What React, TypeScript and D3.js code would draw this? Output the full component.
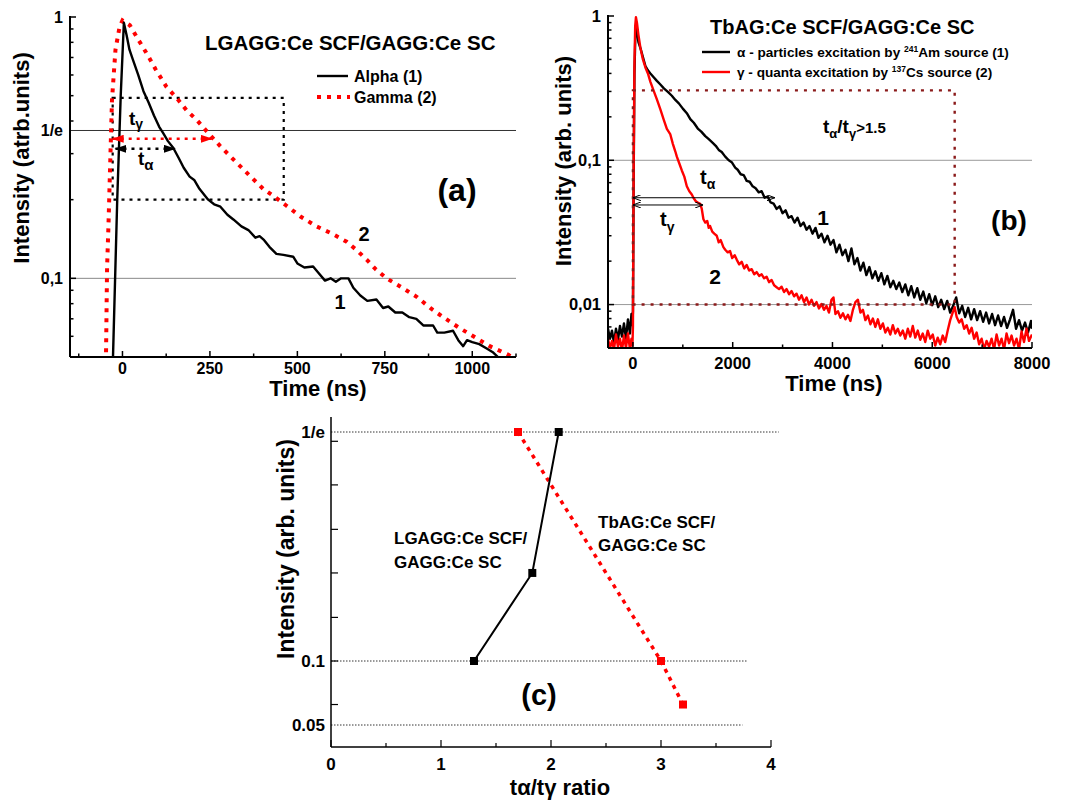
import React from "react";
import * as d3 from "d3";

const INV_E = 1 / Math.E;
const FONT = "'Liberation Sans', Arial, Helvetica, sans-serif";

// ---------------- Panel (a): LGAGG:Ce SCF / GAGG:Ce SC ----------------
const aAlpha: [number, number][] = [
  [-28, 0.045], [-15, 0.2], [-5, 0.5], [4, 0.95], [12, 0.85], [20, 0.75], [30, 0.685], [45, 0.6],
  [60, 0.52], [75, 0.47], [90, 0.42], [105, 0.38], [116, 0.36], [130, 0.335], [145, 0.316], [160, 0.29],
  [175, 0.265], [192, 0.245], [205, 0.238], [220, 0.22], [245, 0.2], [262, 0.192], [280, 0.188], [300, 0.175],
  [317, 0.168], [340, 0.158], [360, 0.153], [380, 0.143], [392, 0.145], [405, 0.14], [420, 0.132], [440, 0.124],
  [460, 0.123], [488, 0.121], [500, 0.114], [520, 0.11], [545, 0.111], [560, 0.105], [579, 0.098], [595, 0.1],
  [610, 0.097], [625, 0.1], [646, 0.1], [660, 0.092], [680, 0.086], [700, 0.082], [726, 0.083], [745, 0.077],
  [760, 0.078], [780, 0.074], [800, 0.074], [820, 0.071], [840, 0.07], [860, 0.066], [888, 0.066], [900, 0.062],
  [920, 0.062], [945, 0.063], [960, 0.058], [974, 0.055], [985, 0.058], [1000, 0.057], [1020, 0.056],
  [1040, 0.054], [1060, 0.052], [1080, 0.049],
];
const aGamma: [number, number][] = [
  [-48, 0.04], [-44, 0.11], [-40, 0.16], [-30, 0.48], [-20, 0.75], [-8, 0.92], [0, 0.97], [21, 0.93],
  [45, 0.82], [68, 0.73], [95, 0.63], [126, 0.54], [155, 0.49], [183, 0.44], [215, 0.4], [245, 0.36],
  [280, 0.32], [317, 0.285], [360, 0.25], [402, 0.22], [435, 0.205], [468, 0.19], [510, 0.172], [555, 0.158],
  [600, 0.148], [641, 0.138], [670, 0.128], [698, 0.118], [725, 0.108], [755, 0.1], [800, 0.092], [841, 0.085],
  [880, 0.077], [917, 0.071], [960, 0.065], [1003, 0.06], [1050, 0.055], [1103, 0.051], [1120, 0.049],
];
const aXTicks = [0, 250, 500, 750, 1000];
const aXMinor = [-125, 125, 375, 625, 875, 1125];
const aYLabels: [number, string][] = [[1, "1"], [INV_E, "1/e"], [0.1, "0,1"]];
const aRect = { t0: -28, t1: 461, v0: 0.2, v1: 0.49 };
const aArrowGamma = { t0: -28, t1: 255, v: 0.342 };
const aArrowAlpha = { t0: -20, t1: 150, v: 0.313 };

// ---------------- Panel (b): TbAG:Ce SCF / GAGG:Ce SC ----------------
const bAlpha: [number, number][] = [
  [-500, 0.0068], [-460, 0.0058], [-420, 0.0066], [-380, 0.0054], [-340, 0.0068], [-300, 0.0057], [-260, 0.0071],
  [-220, 0.006], [-180, 0.0074], [-140, 0.0058], [-100, 0.0079], [-60, 0.0063], [-30, 0.0086], [-10, 0.0072],
  [0, 0.009], [15, 0.08], [30, 0.4], [50, 0.78], [70, 0.9], [85, 0.76], [110, 0.66], [150, 0.6], [200, 0.52],
  [250, 0.45], [300, 0.42], [350, 0.4], [420, 0.375], [480, 0.355], [550, 0.335], [620, 0.315], [700, 0.298],
  [780, 0.28], [850, 0.262], [920, 0.248], [1000, 0.228], [1080, 0.212], [1150, 0.193], [1220, 0.182],
  [1300, 0.166], [1370, 0.158], [1450, 0.147], [1520, 0.14], [1600, 0.132], [1660, 0.126], [1720, 0.118],
  [1780, 0.114], [1850, 0.106], [1920, 0.1], [1980, 0.097], [2050, 0.089], [2100, 0.086], [2160, 0.08],
  [2220, 0.079], [2280, 0.072], [2340, 0.071], [2400, 0.066], [2460, 0.064], [2520, 0.06], [2580, 0.061],
  [2640, 0.055], [2700, 0.056], [2760, 0.051], [2820, 0.05], [2880, 0.046], [2940, 0.048], [3000, 0.043],
  [3060, 0.045], [3120, 0.04], [3180, 0.041], [3240, 0.037], [3300, 0.04], [3360, 0.035], [3420, 0.037],
  [3480, 0.033], [3540, 0.035], [3600, 0.031], [3660, 0.034], [3720, 0.029], [3780, 0.031], [3840, 0.027],
  [3900, 0.03], [3960, 0.026], [4020, 0.028], [4080, 0.023], [4140, 0.026], [4200, 0.022], [4260, 0.024],
  [4320, 0.02], [4380, 0.0245], [4440, 0.019], [4500, 0.021], [4560, 0.0172], [4620, 0.0195], [4680, 0.016],
  [4740, 0.0182], [4800, 0.0152], [4860, 0.017], [4920, 0.0146], [4980, 0.0165], [5040, 0.0138], [5100, 0.0158],
  [5160, 0.0132], [5220, 0.0146], [5280, 0.0128], [5340, 0.0142], [5400, 0.0122], [5460, 0.0138], [5520, 0.0116],
  [5580, 0.0134], [5640, 0.0112], [5700, 0.013], [5760, 0.0108], [5820, 0.0123], [5880, 0.0102], [5940, 0.0118],
  [6000, 0.0099], [6060, 0.0114], [6120, 0.0096], [6180, 0.0108], [6240, 0.0093], [6300, 0.0106], [6360, 0.0088],
  [6420, 0.0098], [6480, 0.0112], [6540, 0.0087], [6600, 0.0098], [6660, 0.0082], [6720, 0.0095], [6780, 0.0079],
  [6840, 0.0093], [6900, 0.0078], [6960, 0.009], [7020, 0.0076], [7080, 0.0088], [7140, 0.0074], [7200, 0.0086],
  [7260, 0.0072], [7320, 0.0084], [7380, 0.0071], [7440, 0.0082], [7500, 0.0069], [7560, 0.0079], [7620, 0.0092],
  [7680, 0.0068], [7740, 0.0078], [7800, 0.0066], [7860, 0.0075], [7920, 0.0064], [7980, 0.0077], [8000, 0.0068],
];
const bGamma: [number, number][] = [
  [-500, 0.0058], [-460, 0.005], [-420, 0.0056], [-380, 0.0049], [-340, 0.0062], [-300, 0.0051], [-260, 0.0058],
  [-220, 0.0048], [-180, 0.0061], [-140, 0.005], [-100, 0.0063], [-60, 0.0049], [-30, 0.0058], [-10, 0.0052],
  [0, 0.007], [15, 0.1], [30, 0.45], [45, 0.85], [60, 0.98], [80, 0.9], [110, 0.74], [150, 0.6], [200, 0.5],
  [250, 0.44], [300, 0.4], [350, 0.35], [420, 0.3], [480, 0.264], [550, 0.225], [620, 0.19], [680, 0.165],
  [747, 0.152], [800, 0.13], [850, 0.115], [880, 0.106], [930, 0.095], [980, 0.085], [1030, 0.077], [1080, 0.066],
  [1130, 0.061], [1180, 0.058], [1213, 0.055], [1260, 0.052], [1300, 0.051], [1347, 0.05], [1380, 0.046],
  [1413, 0.039], [1450, 0.037], [1490, 0.038], [1520, 0.034], [1547, 0.035], [1590, 0.032], [1630, 0.031],
  [1680, 0.03], [1720, 0.027], [1760, 0.028], [1813, 0.025], [1850, 0.024], [1900, 0.023], [1947, 0.0235],
  [1990, 0.021], [2040, 0.022], [2080, 0.0205], [2130, 0.019], [2180, 0.0198], [2230, 0.0178], [2280, 0.0188],
  [2330, 0.0172], [2380, 0.0176], [2430, 0.0162], [2480, 0.0168], [2530, 0.0158], [2580, 0.0162], [2630, 0.0152],
  [2680, 0.0156], [2730, 0.0143], [2780, 0.0148], [2830, 0.0136], [2880, 0.0132], [2930, 0.0128], [2980, 0.0133],
  [3030, 0.0122], [3080, 0.0128], [3130, 0.0118], [3180, 0.0124], [3230, 0.0114], [3280, 0.0119], [3330, 0.0108],
  [3380, 0.0116], [3430, 0.0104], [3480, 0.0112], [3530, 0.01], [3580, 0.0108], [3630, 0.0098], [3680, 0.0104],
  [3730, 0.0094], [3780, 0.0101], [3830, 0.0092], [3880, 0.0098], [3930, 0.0088], [3980, 0.0108], [4020, 0.0112],
  [4060, 0.0086], [4110, 0.009], [4160, 0.0081], [4210, 0.0087], [4260, 0.0079], [4310, 0.0085], [4360, 0.0077],
  [4410, 0.0092], [4460, 0.0104], [4510, 0.0108], [4560, 0.0088], [4610, 0.0092], [4660, 0.0078], [4710, 0.0084],
  [4760, 0.0073], [4810, 0.008], [4860, 0.007], [4910, 0.0079], [4960, 0.0068], [5010, 0.0074], [5060, 0.0064],
  [5110, 0.0069], [5160, 0.0062], [5210, 0.0072], [5260, 0.0063], [5310, 0.0068], [5360, 0.0061], [5410, 0.0066],
  [5460, 0.0058], [5510, 0.0068], [5560, 0.006], [5610, 0.0071], [5660, 0.0059], [5710, 0.0066], [5760, 0.0057],
  [5810, 0.0063], [5860, 0.0055], [5910, 0.0066], [5960, 0.0058], [6010, 0.0062], [6060, 0.0052], [6110, 0.0059],
  [6160, 0.0053], [6210, 0.0061], [6260, 0.0055], [6310, 0.0066], [6360, 0.0078], [6410, 0.0088], [6450, 0.0096],
  [6490, 0.0082], [6540, 0.0075], [6590, 0.0079], [6640, 0.0068], [6690, 0.0072], [6740, 0.0063], [6790, 0.0069],
  [6840, 0.0058], [6890, 0.0064], [6940, 0.0053], [6990, 0.0058], [7040, 0.0049], [7090, 0.0056], [7140, 0.0051],
  [7190, 0.0058], [7240, 0.0049], [7290, 0.0062], [7340, 0.0052], [7390, 0.0058], [7440, 0.0049], [7490, 0.0063],
  [7540, 0.0054], [7590, 0.0061], [7640, 0.0052], [7690, 0.0058], [7740, 0.0049], [7790, 0.0065], [7840, 0.0055],
  [7890, 0.0068], [7940, 0.0056], [8000, 0.0062],
];
const bXTicks = [0, 2000, 4000, 6000, 8000];
const bXMinor = [1000, 3000, 5000, 7000];
const bYLabels: [number, string][] = [[1, "1"], [0.1, "0,1"], [0.01, "0,01"]];
const bRect = { t0: 0, t1: 6450, v0: 0.01, v1: 0.305 };
const bArrowAlpha = { t0: 0, t1: 2846, v: 0.055 };
const bArrowGamma = { t0: 0, t1: 1406, v: 0.049 };

// ---------------- Panel (c): ratio ----------------
const cLGAGG: [number, number][] = [[1.3, 0.1], [1.83, 0.203], [2.07, INV_E]];
const cTbAG: [number, number][] = [[1.7, INV_E], [3.0, 0.1], [3.2, 0.066]];
const cXTicks = [0, 1, 2, 3, 4];
const cXMinor = [0.5, 1.5, 2.5, 3.5];
const cYTicks = [0.066, 0.1, 0.151, 0.203, 0.254, 0.306, 0.357];
const cYLabels: [number, string][] = [[INV_E, "1/e"], [0.1, "0.1"], [0.05, "0.05"]];
const cGrid: [number, number][] = [[INV_E, 4.07], [0.1, 3.78], [0.05, 3.74]];

function logTicks(min: number, max: number) {
  const out: { v: number; major: boolean }[] = [];
  for (let e = -3; e <= 0; e++) {
    for (let k = 1; k < 10; k++) {
      const v = k * Math.pow(10, e);
      if (v >= min * 0.999 && v <= max * 1.001) out.push({ v, major: k === 1 });
    }
  }
  return out;
}

export default function App() {
  const xA = d3.scaleLinear().domain([-150, 1125]).range([70, 516]);
  const yA = d3.scaleLog().domain([0.05, 1]).range([357, 17]);
  const xB = d3.scaleLinear().domain([-500, 8000]).range([608, 1032]);
  const yB = d3.scaleLog().domain([0.005, 1]).range([348, 16]);
  const xC = d3.scaleLinear().domain([0, 4]).range([331, 771]);
  const yC = d3
    .scaleLinear()
    .domain([0.033, 0.05, 0.1, INV_E, 0.386])
    .range([747, 725, 661, 432, 417]);

  const lineA = d3.line<[number, number]>().x((d) => xA(d[0])).y((d) => yA(d[1]));
  const lineB = d3.line<[number, number]>().x((d) => xB(d[0])).y((d) => yB(d[1]));
  const lineC = d3.line<[number, number]>().x((d) => xC(d[0])).y((d) => yC(d[1]));

  const [ax0, ax1] = xA.range();
  const [ay0, ay1] = yA.range();
  const [bx0, bx1] = xB.range();
  const [by0, by1] = yB.range();
  const [cx0, cx1] = xC.range();
  const cyBot = yC(0.033);
  const cyTop = yC(0.386);

  return (
    <svg
      width={1074}
      height={800}
      style={{ position: "absolute", left: 0, top: 0, background: "#fff" }}
      fontFamily={FONT}
      fontWeight={700}
    >
      <defs>
        <clipPath id="clipA">
          <rect x={ax0} y={8} width={ax1 - ax0 + 2} height={ay0 - 8} />
        </clipPath>
        <clipPath id="clipB">
          <rect x={bx0} y={6} width={bx1 - bx0} height={by0 - 6} />
        </clipPath>
        <marker id="arrRed" viewBox="0 0 12 8" refX={11} refY={4} markerWidth={12} markerHeight={8}
          markerUnits="userSpaceOnUse" orient="auto-start-reverse">
          <path d="M0,0 L12,4 L0,8 z" fill="#ff0000" />
        </marker>
        <marker id="arrBlk" viewBox="0 0 12 8" refX={11} refY={4} markerWidth={12} markerHeight={8}
          markerUnits="userSpaceOnUse" orient="auto-start-reverse">
          <path d="M0,0 L12,4 L0,8 z" fill="#000" />
        </marker>
        <marker id="arrThin" viewBox="0 0 8 6" refX={8} refY={3} markerWidth={8} markerHeight={6}
          markerUnits="userSpaceOnUse" orient="auto-start-reverse">
          <path d="M0,0 L8,3 L0,6" fill="none" stroke="#000" strokeWidth={1} />
        </marker>
      </defs>

      {/* ================= Panel (a) ================= */}
      <g>
        <line x1={ax0} x2={ax1} y1={yA(INV_E)} y2={yA(INV_E)} stroke="#333" strokeWidth={1} />
        <line x1={ax0} x2={ax1} y1={yA(0.1)} y2={yA(0.1)} stroke="#888" strokeWidth={1} />

        <rect
          x={xA(aRect.t0)} y={yA(aRect.v1)}
          width={xA(aRect.t1) - xA(aRect.t0)} height={yA(aRect.v0) - yA(aRect.v1)}
          fill="none" stroke="#000" strokeWidth={2.2} strokeDasharray="3 5"
        />

        <g clipPath="url(#clipA)">
          <path d={lineA(aGamma) || ""} fill="none" stroke="#ff0000" strokeWidth={4} strokeDasharray="4 6" />
          <path d={lineA(aAlpha) || ""} fill="none" stroke="#000" strokeWidth={2.4} strokeLinejoin="round" />
        </g>

        <line x1={xA(aArrowGamma.t0)} x2={xA(aArrowGamma.t1)} y1={yA(aArrowGamma.v)} y2={yA(aArrowGamma.v)}
          stroke="#ff0000" strokeWidth={2.5} strokeDasharray="3 5"
          markerStart="url(#arrRed)" markerEnd="url(#arrRed)" />
        <line x1={xA(aArrowAlpha.t0)} x2={xA(aArrowAlpha.t1)} y1={yA(aArrowAlpha.v)} y2={yA(aArrowAlpha.v)}
          stroke="#000" strokeWidth={2.5} strokeDasharray="3 5"
          markerStart="url(#arrBlk)" markerEnd="url(#arrBlk)" />

        <line x1={ax0} x2={ax0} y1={ay1 - 1} y2={ay0} stroke="#000" strokeWidth={2} />
        <line x1={ax0} x2={ax1} y1={ay0} y2={ay0} stroke="#000" strokeWidth={2} />
        {aXTicks.map((t) => (
          <g key={"axt" + t}>
            <line x1={xA(t)} x2={xA(t)} y1={ay0} y2={ay0 - 6} stroke="#000" strokeWidth={1.5} />
            <text x={xA(t)} y={ay0 + 11} dy="0.35em" textAnchor="middle" fontSize={16}>{t}</text>
          </g>
        ))}
        {aXMinor.map((t) => (
          <line key={"axm" + t} x1={xA(t)} x2={xA(t)} y1={ay0} y2={ay0 - 3.5} stroke="#000" strokeWidth={1.5} />
        ))}
        {logTicks(0.05, 1).map(({ v, major }) => (
          <line key={"ayt" + v} x1={ax0} x2={ax0 + (major ? 6 : 3.5)} y1={yA(v)} y2={yA(v)} stroke="#000" strokeWidth={1.5} />
        ))}
        {aYLabels.map(([v, s]) => (
          <text key={"ayl" + s} x={ax0 - 7} y={yA(v)} dy="0.35em" textAnchor="end" fontSize={16}>{s}</text>
        ))}
        <text x={318} y={388} dy="0.35em" textAnchor="middle" fontSize={22}>Time (ns)</text>
        <text transform="translate(21,158) rotate(-90)" dy="0.35em" textAnchor="middle" fontSize={22}>
          Intensity (atrb.units)
        </text>

        <text x={205} y={43} dy="0.35em" fontSize={20.5}>LGAGG:Ce SCF/GAGG:Ce SC</text>
        <line x1={317} x2={348} y1={76} y2={76} stroke="#000" strokeWidth={2.4} />
        <text x={354} y={76} dy="0.35em" fontSize={16}>Alpha (1)</text>
        <line x1={317} x2={350} y1={97} y2={97} stroke="#ff0000" strokeWidth={4} strokeDasharray="4 6" />
        <text x={354} y={97} dy="0.35em" fontSize={16}>Gamma (2)</text>

        <text x={129} y={125} fontSize={19}>
          t<tspan fontSize={14} dy={4}>γ</tspan>
        </text>
        <text x={138} y={165} fontSize={19}>
          t<tspan fontSize={15} dy={5}>α</tspan>
        </text>
        <text x={364} y={234} dy="0.35em" textAnchor="middle" fontSize={20}>2</text>
        <text x={340} y={302} dy="0.35em" textAnchor="middle" fontSize={20}>1</text>
        <text x={457} y={190} dy="0.35em" textAnchor="middle" fontSize={32}>(a)</text>
      </g>

      {/* ================= Panel (b) ================= */}
      <g>
        <line x1={bx0} x2={bx1} y1={yB(0.1)} y2={yB(0.1)} stroke="#999" strokeWidth={1} />
        <line x1={bx0} x2={bx1} y1={yB(0.01)} y2={yB(0.01)} stroke="#999" strokeWidth={1} />

        <g clipPath="url(#clipB)">
          <path d={lineB(bAlpha) || ""} fill="none" stroke="#000" strokeWidth={2.4} strokeLinejoin="round" />
          <path d={lineB(bGamma) || ""} fill="none" stroke="#ff0000" strokeWidth={2.4} strokeLinejoin="round" />
        </g>

        <rect
          x={xB(bRect.t0)} y={yB(bRect.v1)}
          width={xB(bRect.t1) - xB(bRect.t0)} height={yB(bRect.v0) - yB(bRect.v1)}
          fill="none" stroke="#8b1a1a" strokeWidth={2.4} strokeDasharray="3 6"
        />

        <line x1={xB(bArrowAlpha.t0)} x2={xB(bArrowAlpha.t1)} y1={yB(bArrowAlpha.v)} y2={yB(bArrowAlpha.v)}
          stroke="#000" strokeWidth={1} markerStart="url(#arrThin)" markerEnd="url(#arrThin)" />
        <line x1={xB(bArrowGamma.t0)} x2={xB(bArrowGamma.t1)} y1={yB(bArrowGamma.v)} y2={yB(bArrowGamma.v)}
          stroke="#000" strokeWidth={1} markerStart="url(#arrThin)" markerEnd="url(#arrThin)" />

        <line x1={bx0} x2={bx0} y1={by1 - 1} y2={by0} stroke="#000" strokeWidth={2} />
        <line x1={bx0} x2={bx1} y1={by0} y2={by0} stroke="#000" strokeWidth={2} />
        {bXTicks.map((t) => (
          <g key={"bxt" + t}>
            <line x1={xB(t)} x2={xB(t)} y1={by0} y2={by0 - 6} stroke="#000" strokeWidth={1.5} />
            <text x={xB(t)} y={by0 + 15} dy="0.35em" textAnchor="middle" fontSize={16.5}>{t}</text>
          </g>
        ))}
        {bXMinor.map((t) => (
          <line key={"bxm" + t} x1={xB(t)} x2={xB(t)} y1={by0} y2={by0 - 3.5} stroke="#000" strokeWidth={1.5} />
        ))}
        {logTicks(0.005, 1).map(({ v, major }) => (
          <line key={"byt" + v} x1={bx0} x2={bx0 + (major ? 6 : 3.5)} y1={yB(v)} y2={yB(v)} stroke="#000" strokeWidth={1.5} />
        ))}
        {bYLabels.map(([v, s]) => (
          <text key={"byl" + s} x={bx0 - 7} y={yB(v)} dy="0.35em" textAnchor="end" fontSize={16.5}>{s}</text>
        ))}
        <text x={834} y={383} dy="0.35em" textAnchor="middle" fontSize={22}>Time (ns)</text>
        <text transform="translate(563,161) rotate(-90)" dy="0.35em" textAnchor="middle" fontSize={22}>
          Intensity (arb. units)
        </text>

        <text x={710} y={27} dy="0.35em" fontSize={20}>TbAG:Ce SCF/GAGG:Ce SC</text>
        <line x1={702} x2={730} y1={52} y2={52} stroke="#000" strokeWidth={2.4} />
        <text x={737} y={52} dy="0.35em" fontSize={13.6}>
          α - particles excitation by <tspan fontSize={8.5} dy={-5}>241</tspan>
          <tspan dy={5}>Am source (1)</tspan>
        </text>
        <line x1={702} x2={730} y1={72} y2={72} stroke="#ff0000" strokeWidth={2.4} />
        <text x={737} y={72} dy="0.35em" fontSize={13.6}>
          γ - quanta excitation by <tspan fontSize={8.5} dy={-5}>137</tspan>
          <tspan dy={5}>Cs source (2)</tspan>
        </text>

        <text x={823} y={133} fontSize={19}>
          t<tspan fontSize={13} dy={5}>α</tspan>
          <tspan dy={-5}>/t</tspan>
          <tspan fontSize={13} dy={5}>γ</tspan>
          <tspan fontSize={15} dy={-5}>&gt;1.5</tspan>
        </text>
        <text x={700} y={184} fontSize={20}>
          t<tspan fontSize={14} dy={5}>α</tspan>
        </text>
        <text x={660} y={226} fontSize={20}>
          t<tspan fontSize={14} dy={6}>γ</tspan>
        </text>
        <text x={823} y={218} dy="0.35em" textAnchor="middle" fontSize={21}>1</text>
        <text x={715} y={277} dy="0.35em" textAnchor="middle" fontSize={21}>2</text>
        <text x={1009} y={220} dy="0.35em" textAnchor="middle" fontSize={28}>(b)</text>
      </g>

      {/* ================= Panel (c) ================= */}
      <g>
        {cGrid.map(([v, xe]) => (
          <line key={"cg" + v} x1={cx0} x2={xC(xe)} y1={yC(v)} y2={yC(v)} stroke="#000" strokeWidth={0.8} strokeDasharray="1.5 1.5" />
        ))}

        <path d={lineC(cTbAG) || ""} fill="none" stroke="#ff0000" strokeWidth={3.5} strokeDasharray="4 5" />
        <path d={lineC(cLGAGG) || ""} fill="none" stroke="#000" strokeWidth={2} />
        {cTbAG.map(([x, v]) => (
          <rect key={"cr" + x} x={xC(x) - 4} y={yC(v) - 4} width={8} height={8} fill="#ff0000" />
        ))}
        {cLGAGG.map(([x, v]) => (
          <rect key={"cb" + x} x={xC(x) - 4} y={yC(v) - 4} width={8} height={8} fill="#000" />
        ))}

        <line x1={cx0} x2={cx0} y1={cyTop} y2={cyBot} stroke="#000" strokeWidth={1.5} />
        <line x1={cx0} x2={cx1} y1={cyBot} y2={cyBot} stroke="#000" strokeWidth={1.5} />
        {cXTicks.map((t) => (
          <g key={"cxt" + t}>
            <line x1={xC(t)} x2={xC(t)} y1={cyBot} y2={cyBot - 7} stroke="#000" strokeWidth={1.2} />
            <text x={xC(t)} y={cyBot + 17} dy="0.35em" textAnchor="middle" fontSize={17}>{t}</text>
          </g>
        ))}
        {cXMinor.map((t) => (
          <line key={"cxm" + t} x1={xC(t)} x2={xC(t)} y1={cyBot} y2={cyBot - 4} stroke="#000" strokeWidth={1.2} />
        ))}
        {cYTicks.map((v) => (
          <line key={"cyt" + v} x1={cx0} x2={cx0 + 7} y1={yC(v)} y2={yC(v)} stroke="#000" strokeWidth={1.2} />
        ))}
        {cYLabels.map(([v, s]) => (
          <text key={"cyl" + s} x={cx0 - 6} y={yC(v)} dy="0.35em" textAnchor="end" fontSize={17}>{s}</text>
        ))}
        <text x={560} y={787} dy="0.35em" textAnchor="middle" fontSize={22}>tα/tγ ratio</text>
        <text transform="translate(286,549) rotate(-90)" dy="0.35em" textAnchor="middle" fontSize={23}>
          Intensity (arb. units)
        </text>

        <text x={394} y={538} dy="0.35em" fontSize={17}>LGAGG:Ce SCF/</text>
        <text x={394} y={562} dy="0.35em" fontSize={17}>GAGG:Ce SC</text>
        <text x={598} y={522} dy="0.35em" fontSize={17}>TbAG:Ce SCF/</text>
        <text x={598} y={545} dy="0.35em" fontSize={17}>GAGG:Ce SC</text>
        <text x={539} y={695} dy="0.35em" textAnchor="middle" fontSize={29}>(c)</text>
      </g>
    </svg>
  );
}
